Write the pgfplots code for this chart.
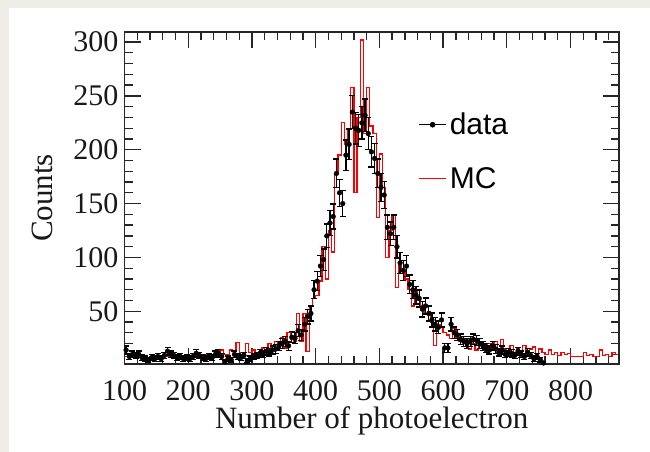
\documentclass[border=0pt]{standalone}
\usepackage{fontspec}
\setmainfont{Liberation Serif}
\newfontfamily\arial{Liberation Sans}
\usepackage{pgfplots}
\usepackage{pgfplotstable}
\pgfplotsset{compat=1.18}
\definecolor{beige}{HTML}{EFEEE6}

\pgfplotstableread{
x y
100 8
105 9
110 7
115 8
120 9
125 8
130 7
135 7
140 8
145 7
150 8
155 8
160 9
165 8
170 9
175 9
180 8
185 9
190 9
195 9
200 9
205 9
210 9
215 10
220 9
225 10
230 10
235 9
240 10
245 10
250 14
255 10
260 10
265 14
270 13
275 21
280 12
285 11
290 20
295 12
300 14
305 12
310 11
315 16
320 14
325 20
330 15
335 22
340 18
345 26
350 16
355 30
360 24
365 22
370 48
375 22
380 48
385 13
390 55
395 62
400 65
405 78
410 110
415 80
420 125
425 105
430 178
435 195
440 225
445 205
450 220
455 258
460 160
465 230
470 302
475 215
480 258
485 222
490 215
495 137
500 196
505 165
510 100
515 125
520 140
525 72
530 95
535 88
540 80
545 70
550 55
555 68
560 60
565 55
570 48
575 50
580 40
585 18
590 38
595 35
600 30
605 28
610 25
615 34
620 26
625 22
630 24
635 18
640 15
645 20
650 14
655 22
660 18
665 12
670 20
675 14
680 22
685 10
690 24
695 15
700 12
705 18
710 10
715 16
720 12
725 18
730 10
735 15
740 17
745 10
750 15
755 12
760 10
765 14
770 10
775 12
780 9
785 12
790 10
795 11
800 8
805 8
810 8
815 8
820 12
825 9
830 10
835 8
840 8
845 14
850 9
855 10
860 8
865 12
870 10
875 10
}\mc

\pgfplotstableread{
x y e
102.5 14 3.7
107.5 8 2.8
112.5 10 3.2
117.5 9 3
122.5 10 3.2
127.5 7 2.6
132.5 6 2.4
137.5 5 2.2
142.5 7 2.6
147.5 6 2.4
152.5 8 2.8
157.5 6 2.4
162.5 9 3
167.5 13 3.6
172.5 10 3.2
177.5 9 3
182.5 7 2.6
187.5 8 2.8
192.5 6 2.4
197.5 7 2.6
202.5 6 2.4
207.5 8 2.8
212.5 11 3.3
217.5 9 3
222.5 7 2.6
227.5 6 2.4
232.5 8 2.8
237.5 7 2.6
242.5 10 3.2
247.5 11 3.3
252.5 8 2.8
257.5 3 1.7
262.5 6 2.4
267.5 5 2.2
272.5 10 3.2
277.5 8 2.8
282.5 7 2.6
287.5 9 3
292.5 4 2
297.5 6 2.4
302.5 8 2.8
307.5 9 3
312.5 11 3.3
317.5 10 3.2
322.5 13 3.6
327.5 12 3.5
332.5 14 3.7
337.5 15 3.9
342.5 18 4.2
347.5 20 4.5
352.5 22 4.7
357.5 18 4.2
362.5 26 5.1
367.5 25 5
372.5 32 5.7
377.5 28 5.3
382.5 38 6.2
387.5 45 6.7
392.5 48 6.9
397.5 70 8.4
402.5 78 8.8
407.5 92 9.6
412.5 98 9.9
417.5 120 11
422.5 132 11.5
427.5 138 11.7
432.5 178 13.3
437.5 160 12.6
442.5 150 12.2
447.5 195 14
452.5 205 14.3
457.5 235 15.3
462.5 220 14.8
467.5 218 14.8
472.5 225 15
477.5 232 15.2
482.5 215 14.7
487.5 198 14.1
492.5 192 13.9
497.5 178 13.3
502.5 165 12.8
507.5 158 12.6
512.5 128 11.3
517.5 122 11
522.5 128 11.3
527.5 110 10.5
532.5 95 9.7
537.5 88 9.4
542.5 92 9.6
547.5 75 8.7
552.5 70 8.4
557.5 65 8.1
562.5 62 7.9
567.5 52 7.2
572.5 55 7.4
577.5 48 6.9
582.5 42 6.5
587.5 38 6.2
592.5 35 5.9
597.5 42 6.5
602.5 16 4
607.5 16 4
612.5 38 6.2
617.5 30 5.5
622.5 28 5.3
627.5 24 4.9
632.5 22 4.7
637.5 20 4.5
642.5 22 4.7
647.5 24 4.9
652.5 23 4.8
657.5 20 4.5
662.5 18 4.2
667.5 16 4
672.5 14 3.7
677.5 18 4.2
682.5 15 3.9
687.5 12 3.5
692.5 14 3.7
697.5 10 3.2
702.5 12 3.5
707.5 11 3.3
712.5 9 3
717.5 13 3.6
722.5 10 3.2
727.5 8 2.8
732.5 12 3.5
737.5 9 3
742.5 6 2.4
747.5 8 2.8
752.5 5 2.2
757.5 2 1.4
}\data

\begin{document}
\begin{tikzpicture}
\fill[beige] (0,0) rectangle (650pt,452pt);
\fill[white] (9pt,0pt) rectangle (650pt,444pt);
\begin{axis}[
  at={(124.5pt,87.7pt)}, anchor=south west,
  scale only axis, width=494.5pt, height=332.6pt,
  xmin=100, xmax=876, ymin=0.8, ymax=309.6,
  xtick={100,200,...,800}, ytick={50,100,...,300},
  minor xtick={100,120,...,860}, minor ytick={10,20,...,300},
  tick align=inside,
  major tick length=16pt, minor tick length=8pt,
  axis line style={line width=1.8pt, black!85},
  every tick/.style={line width=1.3pt, black!85},
  /pgf/number format/assume math mode=true,
  tick label style={font=\fontsize{30}{30}\selectfont, inner sep=0pt, black!90},
  yticklabel style={xshift=-6pt},
  xticklabel style={yshift=-16.5pt},
  xlabel={Number of photoelectron},
  ylabel={Counts},
  xlabel style={at={(axis description cs:0.5,-0.194)}, anchor=base, font=\fontsize{31}{31}\selectfont, inner sep=0pt, black!90},
  ylabel style={at={(axis description cs:-0.1446,0.5)}, anchor=base, font=\fontsize{31}{31}\selectfont, inner sep=0pt, black!90},
  legend style={at={(axis cs:561,237)}, anchor=north west, draw=none, fill=none,
    font=\arial\fontsize{30}{30}\selectfont, row sep=25pt, inner sep=0pt,
    nodes={inner sep=3pt}},
  legend cell align=left,
  legend image code/.code={\draw[#1] (0pt,0pt) -- (27pt,0pt);},
]
\addplot[red, const plot mark left, line width=1.3pt, forget plot] table[x=x,y=y] {\mc};
\addplot[black, only marks, mark=*, mark size=2.4pt,
  legend image code/.code={\draw[black, line width=1.3pt] (0pt,0pt) -- (27pt,0pt); \fill[black] (13.5pt,0pt) circle (2.6pt);},
  error bars/.cd, y dir=both, y explicit,
  error bar style={line width=1.3pt, black},
  error mark options={rotate=90, mark size=3pt, line width=1.3pt, black},
  ] table[x=x,y=y,y error=e] {\data};
\addlegendentry{data}
\addlegendimage{red, line width=1.3pt}
\addlegendentry{MC}
\end{axis}
\pgfresetboundingbox
\useasboundingbox (0,0) rectangle (650pt,452pt);
\end{tikzpicture}
\end{document}
